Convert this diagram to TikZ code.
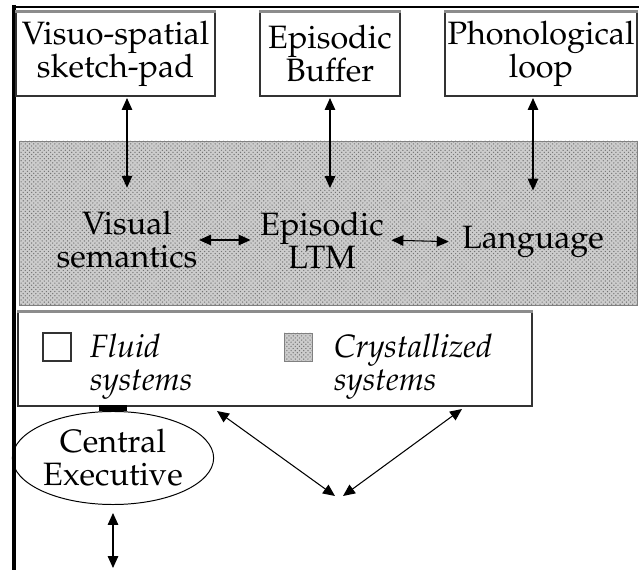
\documentclass[tikz,border=0pt]{standalone}
\usepackage[T1]{fontenc}
\usepackage{mathpazo}
\usepackage{tikz}
\usetikzlibrary{shapes.geometric}
\usetikzlibrary{arrows.meta}
\usetikzlibrary{positioning}
\usetikzlibrary{patterns}

\begin{document}
\begin{tikzpicture}[x=0.025cm, y=-0.025cm,
    every node/.style={font=\fontsize{23}{23.5}\selectfont, inner sep=1pt},
    box/.style={draw=black!80, line width=0.9pt, fill=white, align=center, minimum height=2.1cm},
    topedge/.style={draw=black!45, line width=2.5pt},
    crys/.style={draw=black!50, line width=0.6pt, preaction={fill=black!20}, pattern=crosshatch dots, pattern color=black!55},
    dbl/.style={{Triangle[length=8.5pt,width=7.5pt]}-{Triangle[length=8.5pt,width=7.5pt]}, line width=0.75pt},
    legtext/.style={align=left, font=\fontsize{23}{23.5}\selectfont\itshape}]
    		% Frame, boxes and arrows:
    		\useasboundingbox (0,0) rectangle (639,570);
    		\draw[line width=1.5pt] (639,7) -- (13,7);
    		\draw[line width=3pt] (14,5) -- (14,570);
    		\node[box, minimum width=4.975cm] (vssp) at (115.5,54) {Visuo-spatial\\sketch-pad};
    		\node[box, minimum width=3.5cm] (buffer) at (330,54) {Episodic\\Buffer};
    		\node[box, minimum width=4.8cm] (phono) at (541,54) {Phonological\\loop};
    		\node[crys, minimum width=15.425cm, minimum height=4.1cm] (band) at (328.5,223) {};
    		\node[align=center] (vissem) at (127,240) {Visual\\semantics};
    		\node[align=center] (eltm) at (322,240) {Episodic\\LTM};
    		\node (lang) at (533,242) {Language};
    		\node[box, minimum width=12.85cm, minimum height=2.35cm] (legend) at (275,359) {};
    		\node[draw=black!80, line width=0.8pt, minimum size=0.7cm] (wsq) at (57,347) {};
    		\node[legtext, right=0.42cm of wsq.north east, anchor=north west] (fluid) {Fluid\\systems};
    		\node[crys, minimum size=0.7cm] (gsq) at (298,347) {};
    		\node[legtext, right=0.5cm of gsq.north east, anchor=north west] (cryst) {Crystallized\\systems};
    		\node[draw, ellipse, line width=0.7pt, minimum width=4.8cm, minimum height=2.325cm, align=center] (ceo) at (113,458) {Central\\Executive};
    		\foreach \b in {vssp,buffer,phono,legend}
    			\draw[topedge] (\b.north west) -- (\b.north east);
    		\draw[dbl, shorten <=1pt, shorten >=0.55cm] (vssp.south -| vissem.north) -- (vissem.north);
    		\draw[dbl, shorten <=1pt, shorten >=0.55cm] (buffer.south) -- (buffer.south |- eltm.north);
    		\draw[dbl, shorten <=1pt, shorten >=0.85cm] (phono.south -| lang.north) -- (lang.north);
    		\draw[dbl, shorten >=0.2cm] (vissem.east) -- (eltm.west);
    		\draw[dbl, shorten <=0.15cm, shorten >=0.29cm] (eltm.east) -- (lang.west);
    		\fill ([xshift=-0.35cm]ceo.north) rectangle ([xshift=0.35cm,yshift=0.15cm]ceo.north);
    		\coordinate (lt) at (217,411);
    		\coordinate (rt) at (462,409);
    		\coordinate (vl) at (335,496);
    		\coordinate (vr) at (343,496);
    		\draw[dbl] (lt) -- (vl);
    		\draw[dbl] (vr) -- (rt);
    		\coordinate (ceoout) at (113,568);
    		\draw[dbl, shorten <=0.2cm] (ceo.south) -- (ceoout);
    	\end{tikzpicture}
\end{document}
